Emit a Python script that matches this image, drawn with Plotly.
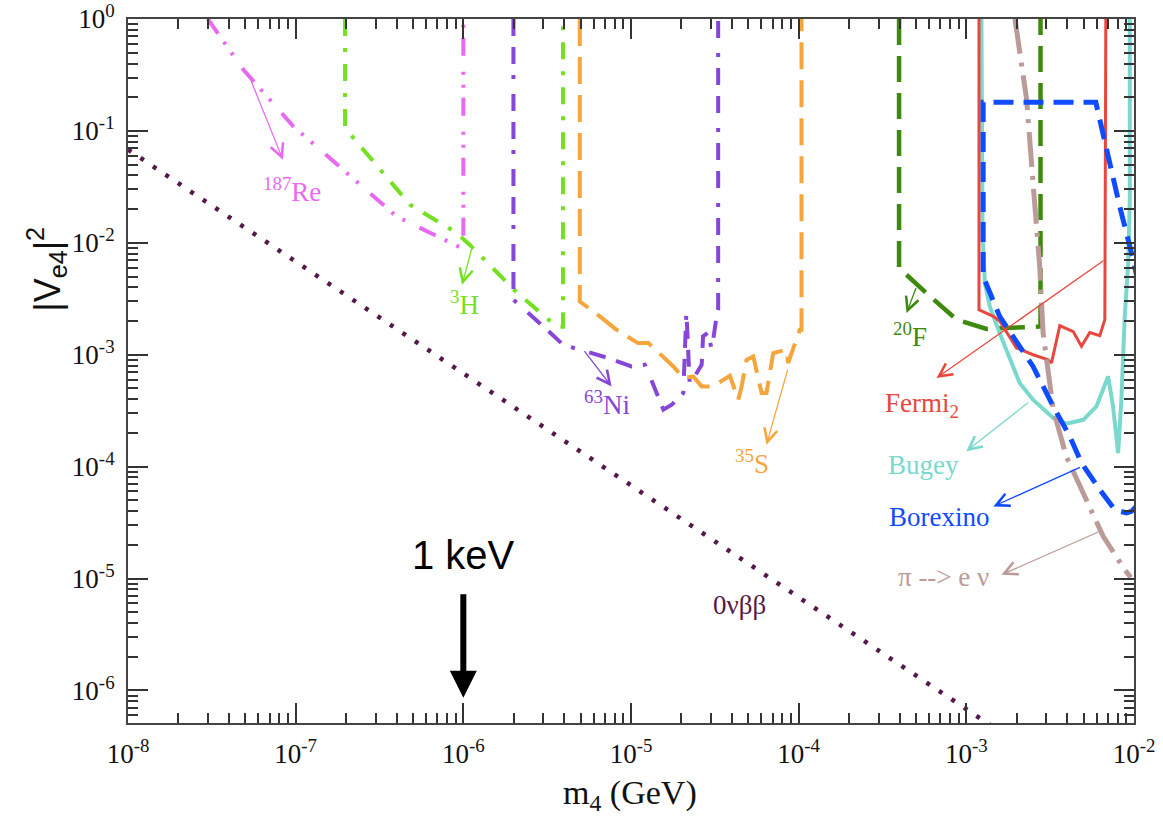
import numpy as np
import plotly.graph_objects as go

# ---------------- data (m4 in GeV, |Ve4|^2) ----------------
re_m = [2.99e-8, 4.88e-8, 9.68e-8, 2.11e-7, 4.00e-7, 9.55e-7, 1.0e-6, 1.0e-6]
re_v = [1.0, 0.352, 0.110, 0.0392, 0.0172, 0.00912, 0.00912, 1.0]

h3_m = [1.97e-7, 1.97e-7, 4.81e-7, 8.91e-7, 1.09e-6, 2.09e-6, 3.61e-6, 3.93e-6, 3.93e-6]
h3_v = [1.0, 0.106, 0.0219, 0.01256, 0.00962, 0.00358, 0.00178, 0.00178, 1.0]

ni_m = [1.99e-6, 1.99e-6, 3.0e-6, 3.94e-6, 4.95e-6, 7.31e-6, 1.007e-5, 1.21e-5, 1.26e-5,
        1.56e-5, 1.75e-5, 2.05e-5, 2.14e-5, 2.24e-5, 2.64e-5, 2.69e-5, 2.88e-5, 3.03e-5,
        3.24e-5, 3.31e-5, 3.31e-5]
ni_v = [1.0, 0.00310, 0.00179, 0.001227, 0.001109, 0.000935, 0.000785, 0.000815, 0.000710,
        0.000323, 0.000357, 0.000455, 0.00244, 0.00054, 0.000815, 0.00146, 0.00157, 0.00111,
        0.0022, 0.00252, 1.0]

s35_m = [4.95e-6, 4.95e-6, 6.52e-6, 8.2e-6, 1.10e-5, 1.27e-5, 1.79e-5, 2.05e-5, 2.35e-5,
         2.64e-5, 3.09e-5, 3.89e-5, 4.36e-5, 4.56e-5, 4.89e-5, 5.36e-5, 6.01e-5, 6.43e-5,
         7.05e-5, 8.47e-5, 8.65e-5, 1.016e-4, 1.04e-4, 1.04e-4]
s35_v = [1.0, 0.00299, 0.0022, 0.00167, 0.00127, 0.00127, 0.000785, 0.000619, 0.00064,
         0.000521, 0.000521, 0.000649, 0.000396, 0.000514, 0.000902, 0.000966, 0.000455, 0.000455,
         0.001035, 0.00111, 0.000843, 0.00167, 0.00167, 1.0]

f20_m = [3.97e-4, 3.97e-4, 5.92e-4, 8.75e-4, 1.32e-3, 2.77e-3, 2.77e-3]
f20_v = [1.0, 0.00596, 0.00344, 0.00206, 0.0017, 0.00179, 1.0]

fermi_m = [1.19e-3, 1.19e-3, 1.45e-3, 1.585e-3, 1.99e-3, 2.50e-3, 3.08e-3, 3.22e-3, 3.61e-3,
           4.34e-3, 4.86e-3, 5.45e-3, 6.25e-3, 6.70e-3, 6.79e-3]
fermi_v = [1.0, 0.00252, 0.0022, 0.00199, 0.00115, 0.001, 0.000902, 0.000843, 0.00182,
           0.00161, 0.00119, 0.00158, 0.00148, 0.00206, 1.0]

bugey_m = [1.23e-3, 1.25e-3, 1.29e-3, 1.38e-3, 1.58e-3, 1.82e-3, 2.08e-3, 2.50e-3, 3.30e-3,
           3.95e-3, 4.98e-3, 5.97e-3, 7.01e-3, 7.50e-3, 8.04e-3, 8.41e-3, 8.81e-3, 9.23e-3,
           9.44e-3, 9.44e-3]
bugey_v = [1.0, 0.0123, 0.00438, 0.0027, 0.00156, 0.000902, 0.000558, 0.000396, 0.000272,
           0.000242, 0.000262, 0.000345, 0.00064, 0.000345, 0.000132, 0.000396, 0.0022, 0.00659,
           0.0243, 1.0]

borex_m = [1.054e-2, 9.66e-3, 9.02e-3, 7.67e-3, 6.25e-3, 4.86e-3, 4.14e-3, 3.30e-3, 2.50e-3,
           1.58e-3, 1.26e-3, 1.26e-3, 5.92e-3, 6.85e-3, 8.22e-3, 9.89e-3, 1.08e-2]
borex_v = [4.57e-5, 3.98e-5, 3.85e-5, 4.12e-5, 6.22e-5, 1.08e-4, 1.86e-4, 3.45e-4, 7.85e-4,
           2.2e-3, 5.01e-3, 0.18, 0.18, 0.0679, 0.0211, 0.00706, 0.00381]

pi_m = [1.95e-3, 2.29e-3, 2.50e-3, 2.74e-3, 2.87e-3, 3.30e-3, 3.95e-3, 5.21e-3, 6.55e-3,
        8.81e-3, 9.57e-3]
pi_v = [1.0, 0.19, 0.0342, 0.00615, 0.00156, 3.23e-4, 1.23e-4, 5.06e-5, 2.38e-5, 1.2e-5, 1.02e-5]

bb_m = [1.0e-8, 1.4e-3]
bb_v = [0.068, 4.86e-7]

# labels: text, position (m, V), colour
lab_text = ["<sup>187</sup>Re", "<sup>3</sup>H", "<sup>63</sup>Ni", "<sup>35</sup>S",
            "<sup>20</sup>F", "Fermi<sub>2</sub>", "Bugey", "Borexino", "π --> e ν", "0νββ"]
lab_m = [9.51e-8, 1.02e-6, 7.18e-6, 5.26e-5, 4.6e-4, 5.43e-4, 5.58e-4, 6.95e-4, 7.35e-4, 4.46e-5]
lab_v = [0.0298, 0.00292, 3.72e-4, 1.11e-4, 1.51e-3, 3.57e-4, 1.04e-4, 3.56e-5, 1.04e-5, 5.83e-6]

# label arrows: tail (m, V) -> head (m, V)
arr_tail_m = [5.33e-8, 1.14e-6, 5.19e-6, 8.65e-5, 5.05e-4, 6.7e-3, 2.39e-3, 4.86e-3, 6.25e-3]
arr_tail_v = [0.299, 9.62e-3, 1.11e-3, 7.6e-4, 4.07e-3, 7.06e-3, 3.83e-4, 1.0e-4, 2.64e-5]
arr_head_m = [8.39e-8, 9.82e-7, 7.66e-6, 6.43e-5, 4.4e-4, 6.64e-4, 1.0e-3, 1.45e-3, 1.62e-3]
arr_head_v = [0.0553, 4.23e-3, 5.21e-4, 1.57e-4, 2.36e-3, 6.19e-4, 1.37e-4, 4.41e-5, 1.08e-5]

kev_m = 1.0e-6
kev_text_v = 1.63e-5
kev_tail_v = 7.46e-6
kev_head_v = 8.61e-7

x_major = [1e-8, 1e-7, 1e-6, 1e-5, 1e-4, 1e-3, 1e-2]
x_ticktext = ["10<sup>-8</sup>", "10<sup>-7</sup>", "10<sup>-6</sup>", "10<sup>-5</sup>",
              "10<sup>-4</sup>", "10<sup>-3</sup>", "10<sup>-2</sup>"]
y_major = [1e-6, 1e-5, 1e-4, 1e-3, 1e-2, 1e-1, 1e0]
y_ticktext = ["10<sup>-6</sup>", "10<sup>-5</sup>", "10<sup>-4</sup>", "10<sup>-3</sup>",
              "10<sup>-2</sup>", "10<sup>-1</sup>", "10<sup>0</sup>"]

# ---------------- styles ----------------
C_RE = "#e96af2"
C_H3 = "#74e021"
C_NI = "#8646d8"
C_S = "#f5a53c"
C_F = "#3e8a0f"
C_FERMI = "#e8473d"
C_BUGEY = "#7bd8cc"
C_BOREX = "#0f4bff"
C_PI = "#bb9b98"
C_BB = "#54194a"
lab_color = [C_RE, C_H3, C_NI, C_S, C_F, C_FERMI, C_BUGEY, C_BOREX, C_PI, C_BB]
arr_color = [C_RE, C_H3, C_NI, C_S, C_F, C_FERMI, C_BUGEY, C_BOREX, C_PI]

fig = go.Figure()


def add_line(m, v, color, width, dash):
    fig.add_trace(go.Scatter(x=m, y=v, mode="lines",
                             line=dict(color=color, width=width, dash=dash),
                             hoverinfo="skip", showlegend=False))


add_line(bb_m, bb_v, C_BB, 4.5, "4px,11px")
add_line(re_m, re_v, C_RE, 4, "18px,10px,3px,10px,3px,16px")
add_line(h3_m, h3_v, C_H3, 4, "17px,12px,4px,12px")
add_line(ni_m, ni_v, C_NI, 4, "17px,11px,17px,11px,4px,15px")
add_line(s35_m, s35_v, C_S, 4, "27px,11px")
add_line(f20_m, f20_v, C_F, 4.5, "26px,11px")
add_line(bugey_m, bugey_v, C_BUGEY, 4, "solid")
add_line(fermi_m, fermi_v, C_FERMI, 3, "solid")
add_line(pi_m, pi_v, C_PI, 5, "35px,9px,4px,9px")
add_line(borex_m, borex_v, C_BOREX, 5, "20px,10px")

annotations = []
for t, m, v, c in zip(lab_text, lab_m, lab_v, lab_color):
    annotations.append(dict(x=np.log10(m), y=np.log10(v), xref="x", yref="y", text=t,
                            showarrow=False, xanchor="center", yanchor="middle",
                            font=dict(family="Liberation Serif", size=27, color=c)))
for tm, tv, hm, hv, c in zip(arr_tail_m, arr_tail_v, arr_head_m, arr_head_v, arr_color):
    annotations.append(dict(x=np.log10(hm), y=np.log10(hv), ax=np.log10(tm), ay=np.log10(tv),
                            xref="x", yref="y", axref="x", ayref="y", text="",
                            showarrow=True, arrowhead=5, arrowsize=2, arrowwidth=1.3,
                            arrowcolor=c, standoff=0, startstandoff=0))
# 1 keV marker
annotations.append(dict(x=np.log10(kev_m), y=np.log10(kev_text_v), xref="x", yref="y",
                        text="1 keV", showarrow=False,
                        font=dict(family="Liberation Sans", size=40, color="#000")))
annotations.append(dict(x=np.log10(kev_m), y=np.log10(kev_head_v), ax=np.log10(kev_m),
                        ay=np.log10(kev_tail_v), xref="x", yref="y", axref="x", ayref="y",
                        text="", showarrow=True, arrowhead=2, arrowsize=0.9, arrowwidth=6,
                        arrowcolor="#000", standoff=0))
# axis titles
annotations.append(dict(x=0.499, y=-0.102, xref="paper", yref="paper",
                        text="m<sub>4</sub> (GeV)", showarrow=False,
                        xanchor="center", yanchor="middle",
                        font=dict(family="Liberation Serif", size=34, color="#111")))
annotations.append(dict(x=-0.0805, y=0.644, xref="paper", yref="paper",
                        text="|V<sub>e4</sub>|<sup>2</sup>", showarrow=False, textangle=-90,
                        xanchor="center", yanchor="middle",
                        font=dict(family="Liberation Sans", size=36, color="#111")))

minor_vals = [k * 10.0 ** e for e in range(-9, 1) for k in range(2, 10)]
axis_common = dict(type="log", showgrid=False, zeroline=False, showline=True,
                   linewidth=2, linecolor="#444", mirror="ticks", ticks="inside",
                   ticklen=20, tickwidth=1.5, tickcolor="#333", automargin=False,
                   tickmode="array", ticklabeloverflow="allow",
                   tickfont=dict(family="Liberation Serif", size=27, color="#111"),
                   minor=dict(tickmode="array", tickvals=minor_vals, ticks="inside",
                              ticklen=10, tickwidth=1.5, tickcolor="#333", showgrid=False))

fig.update_layout(
    width=1163, height=822, template="none",
    paper_bgcolor="white", plot_bgcolor="white",
    margin=dict(l=128, r=29, t=19, b=99),
    showlegend=False,
    xaxis=dict(range=[-8, -2], tickvals=x_major, ticktext=x_ticktext,
               ticklabelstandoff=6, **axis_common),
    yaxis=dict(range=[-6.291, 0], tickvals=y_major, ticktext=y_ticktext,
               ticklabelstandoff=6, **axis_common),
    annotations=annotations,
)

# remove the default 8px page margin so the figure fills the window exactly
fig.write_html("out.html",
               config={"displayModeBar": False},
               post_script="document.body.style.margin='0';"
                           "document.body.style.overflow='hidden';")
